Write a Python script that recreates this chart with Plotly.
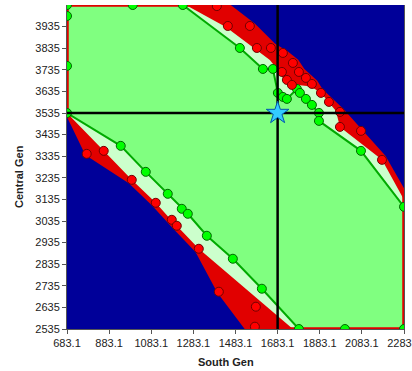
import plotly.graph_objects as go

# ---- axes ----
x_range = [683.1, 2283.1]
y_range = [2535, 4035]
x_ticks = [683.1, 883.1, 1083.1, 1283.1, 1483.1, 1683.1, 1883.1, 2083.1, 2283.1]
y_ticks = [2535, 2635, 2735, 2835, 2935, 3035, 3135, 3235, 3335, 3435, 3535, 3635, 3735, 3835, 3935]

# ---- secure-region boundary (green line) ----
inner_ur_x = [1232.9, 1503.8, 1613.1, 1660.6, 1684.3, 1708.1, 1727.1, 1774.6, 1788.9, 1817.4, 1845.9, 1879.2, 1879.2, 2078.8, 2283.1]
inner_ur_y = [4035, 3836.1, 3739, 3739, 3628, 3609.5, 3600.3, 3646.5, 3628, 3600.3, 3572.5, 3535.5, 3498.5, 3359.75, 3100.75]
inner_ll_x = [683.1, 938.3, 1057.1, 1161.6, 1228.1, 1256.7, 1347, 1470.5, 1608.3, 1784.1]
inner_ll_y = [3535, 3382.9, 3262.6, 3160.9, 3091.5, 3068.4, 2966.6, 2860.25, 2721.5, 2535]

# ---- margin band boundary (pale green / red) ----
pale_ur_x = [1247.2, 1437.2, 1575, 1646.3, 1684.3, 1708.1, 1736.6, 1779.4, 1822.2, 1860.2, 1893.4, 1960, 1979, 2178.6, 2283.1]
pale_ur_y = [4035, 3933.25, 3831.5, 3780.6, 3734.4, 3697.4, 3660.4, 3665, 3660.4, 3646.5, 3623.4, 3544.75, 3470.75, 3318.1, 3133.1]
pale_ll_x = [683.1, 857.5, 990.6, 1104.6, 1180.6, 1204.4, 1308.9, 1755.6]
pale_ll_y = [3535, 3359.75, 3225.6, 3119.25, 3036, 3012.9, 2906.5, 2535]

# ---- insecure boundary (red / blue) ----
outer_ur_x = [1446.8, 1570.3, 1665.3, 1727.1, 1774.6, 1803.2, 1836.4, 1864.9, 1888.7, 1931.4, 1988.5, 2188.1, 2283.1]
outer_ur_y = [4035, 3942.5, 3850, 3813, 3776, 3734.4, 3706.6, 3678.9, 3641.9, 3600.3, 3549.4, 3332, 3170.1]
outer_ll_x = [683.1, 776.7, 981.1, 1095.1, 1194.9, 1299.4, 1404, 1537]
outer_ll_y = [3535, 3345.9, 3216.4, 3110, 3003.6, 2897.25, 2707.6, 2535]

# ---- computed points ----
green_edge_x = [683.1, 683.1, 683.1, 995.3, 2002.7, 2283.1]
green_edge_y = [4035, 3984.1, 3752.9, 4035, 2535, 2535]
red_x = [1394.5, 1446.8, 1551.3, 1584.6, 1651.1, 1708.1, 1755.6, 1703.4, 1784.1, 1727.1, 1817.4, 1750.9,
         1845.9, 1888.7, 1926.7, 1979, 1979, 2078.8, 2178.6, 776.7, 857.5, 990.6, 1104.6, 1180.6, 1204.4,
         1308.9, 1404, 1579.8, 1575.1]
red_y = [4030, 3937.9, 3937.9, 3836.1, 3836.1, 3813, 3766.75, 3725.1, 3725.1, 3688.1, 3697.4, 3665,
         3669.6, 3628, 3586.4, 3540.1, 3470.75, 3452.25, 3318.1, 3345.9, 3359.75, 3225.6, 3119.25, 3040.6,
         3012.9, 2906.5, 2707.6, 2638.25, 2545.75]

# ---- operating point ----
star_x = 1683.1
star_y = 3535

RED = "#E10000"
BLUE = "#000099"
LIGHT_GREEN = "#80FF80"
PALE_GREEN = "#CCFFCC"
LINE_GREEN = "#00AA00"


def region(ur_x, ur_y, ll_x, ll_y):
    xs = [x_range[0]] + ur_x + [x_range[1]] + ll_x[::-1]
    ys = [y_range[1]] + ur_y + [y_range[0]] + ll_y[::-1]
    return xs + [xs[0]], ys + [ys[0]]


ox, oy = region(outer_ur_x, outer_ur_y, outer_ll_x, outer_ll_y)
px, py = region(pale_ur_x, pale_ur_y, pale_ll_x, pale_ll_y)
ix, iy = region(inner_ur_x, inner_ur_y, inner_ll_x, inner_ll_y)

fig = go.Figure()
fig.add_trace(go.Scatter(x=ox, y=oy, mode="lines", fill="toself", fillcolor=RED,
                         line=dict(width=0, color=RED), hoverinfo="skip"))
fig.add_trace(go.Scatter(x=px, y=py, mode="lines", fill="toself", fillcolor=PALE_GREEN,
                         line=dict(width=0, color=PALE_GREEN), hoverinfo="skip"))
fig.add_trace(go.Scatter(x=ix, y=iy, mode="lines", fill="toself", fillcolor=LIGHT_GREEN,
                         line=dict(width=0, color=LIGHT_GREEN), hoverinfo="skip"))
# red outline of the whole region (visible along plot edges)
fig.add_trace(go.Scatter(x=ox, y=oy, mode="lines", line=dict(width=3.5, color=RED), hoverinfo="skip"))
# green boundary lines
fig.add_trace(go.Scatter(x=inner_ur_x + [None] + inner_ll_x, y=inner_ur_y + [None] + inner_ll_y,
                         mode="lines", line=dict(width=2, color=LINE_GREEN), hoverinfo="skip"))
# green points
fig.add_trace(go.Scatter(x=inner_ur_x + inner_ll_x + green_edge_x, y=inner_ur_y + inner_ll_y + green_edge_y,
                         mode="markers",
                         marker=dict(size=9, color="#00FF00", line=dict(width=1, color="#006600"))))
# red points
fig.add_trace(go.Scatter(x=red_x, y=red_y, mode="markers",
                         marker=dict(size=9, color="#FF0000", line=dict(width=1, color="#700000"))))
# crosshair
fig.add_trace(go.Scatter(x=[star_x, star_x], y=y_range, mode="lines", line=dict(width=2.5, color="black")))
fig.add_trace(go.Scatter(x=x_range, y=[star_y, star_y], mode="lines", line=dict(width=2.5, color="black")))
fig.add_trace(go.Scatter(x=[star_x], y=[star_y], mode="markers",
                         marker=dict(symbol="star", size=17, color="#33CCFF", line=dict(width=1, color="#0055AA"))))

font_family = "Liberation Sans, Arial, sans-serif"
fig.update_layout(
    width=412, height=371,
    margin=dict(l=67, r=8, t=5, b=42),
    paper_bgcolor="white", plot_bgcolor=BLUE,
    showlegend=False,
    font=dict(family=font_family, size=11, color="#222"),
    xaxis=dict(range=x_range, tickvals=x_ticks, ticktext=[f"{v:.1f}" for v in x_ticks],
               ticks="outside", ticklen=4, tickcolor="#555", showgrid=False, zeroline=False,
               showline=True, linecolor="#555", linewidth=1, mirror=False, automargin=False,
               ticklabeloverflow="allow",
               tickfont=dict(size=11, color="#222", family=font_family)),
    yaxis=dict(range=y_range, tickvals=y_ticks, ticktext=[str(v) for v in y_ticks],
               ticks="outside", ticklen=4, tickcolor="#555", showgrid=False, zeroline=False,
               showline=True, linecolor="#555", linewidth=1, mirror=True, automargin=False,
               tickfont=dict(size=11, color="#222", family=font_family)),
    annotations=[
        dict(text="<b>South Gen</b>", xref="paper", yref="paper", x=0.472, y=-0.102,
             xanchor="center", yanchor="middle", showarrow=False,
             font=dict(size=11, color="#222", family=font_family)),
        dict(text="<b>Central Gen</b>", xref="paper", yref="paper", x=-0.141, y=0.4707,
             xanchor="center", yanchor="middle", showarrow=False, textangle=-90,
             font=dict(size=11, color="#222", family=font_family)),
    ],
)

fig.write_html("out.html", config={"displayModeBar": False},
               post_script="document.body.style.margin='0';document.body.style.overflow='hidden';")
